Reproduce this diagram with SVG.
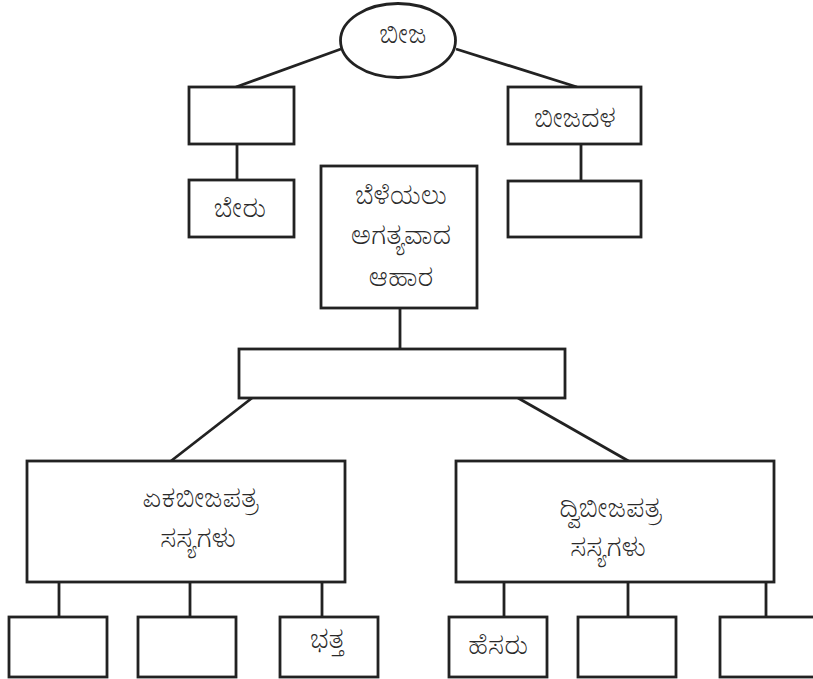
<svg xmlns="http://www.w3.org/2000/svg" width="813" height="679" viewBox="0 0 813 679">
<style>
.n{fill:#fff;stroke:#222;stroke-width:2.8}
.c line{stroke:#222;stroke-width:2.8}
text{font-family:"Noto Serif Kannada","Noto Sans Kannada","Noto Sans",sans-serif;font-size:25px;font-weight:300;fill:#2a2a2a;text-anchor:middle}
</style>
<rect width="813" height="679" fill="#fff"/>
<g class="c" id="connectors">
<line x1="341" y1="49" x2="236" y2="87"/>
<line x1="456" y1="49" x2="577" y2="87"/>
<line x1="237" y1="144" x2="237" y2="180"/>
<line x1="581" y1="144" x2="581" y2="181"/>
<line x1="400" y1="308" x2="400" y2="349"/>
<line x1="252" y1="398" x2="171" y2="461"/>
<line x1="518" y1="398" x2="632" y2="463"/>
<line x1="59" y1="582" x2="59" y2="617"/>
<line x1="190" y1="582" x2="190" y2="617"/>
<line x1="322" y1="582" x2="322" y2="617"/>
<line x1="504" y1="582" x2="504" y2="617"/>
<line x1="628" y1="582" x2="628" y2="617"/>
<line x1="766" y1="582" x2="766" y2="617"/>
</g>
<g id="seed"><ellipse class="n" cx="398" cy="40.5" rx="57.5" ry="37"/><text x="403" y="43">ಬೀಜ</text></g>
<g id="blank1"><rect class="n" x="189" y="87" width="105" height="57"/></g>
<g id="cotyledon"><rect class="n" x="508" y="87" width="133" height="57"/><text x="575" y="127">ಬೀಜದಳ</text></g>
<g id="root"><rect class="n" x="189" y="180" width="105" height="57"/><text x="240" y="217">ಬೇರು</text></g>
<g id="blank2"><rect class="n" x="508" y="181" width="133" height="56"/></g>
<g id="food"><rect class="n" x="321" y="166" width="156" height="142"/><text x="401" y="204">ಬೆಳೆಯಲು</text><text x="401" y="244">ಅಗತ್ಯವಾದ</text><text x="401" y="286">ಆಹಾರ</text></g>
<g id="blank3"><rect class="n" x="239" y="349" width="326" height="49"/></g>
<g id="mono"><rect class="n" x="27" y="461" width="318" height="121"/><text x="200" y="507">ಏಕಬೀಜಪತ್ರ</text><text x="198" y="547">ಸಸ್ಯಗಳು</text></g>
<g id="di"><rect class="n" x="456" y="461" width="318" height="121"/><text x="610" y="517">ದ್ವಿಬೀಜಪತ್ರ</text><text x="608" y="556">ಸಸ್ಯಗಳು</text></g>
<g id="m1"><rect class="n" x="9" y="617" width="98" height="60"/></g>
<g id="m2"><rect class="n" x="138" y="617" width="98" height="60"/></g>
<g id="m3"><rect class="n" x="280" y="617" width="98" height="60"/><text x="327" y="648">ಭತ್ತ</text></g>
<g id="d1"><rect class="n" x="449" y="617" width="98" height="60"/><text x="498" y="654">ಹೆಸರು</text></g>
<g id="d2"><rect class="n" x="578" y="617" width="98" height="60"/></g>
<g id="d3"><rect class="n" x="720" y="617" width="98" height="60"/></g>
</svg>
